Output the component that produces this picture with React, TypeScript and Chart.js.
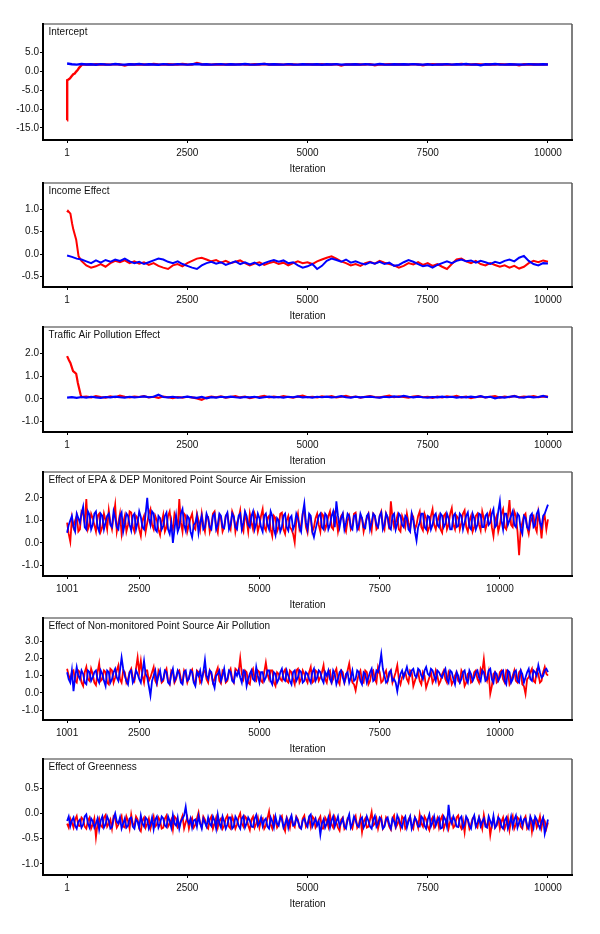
import React, { useEffect, useRef } from "react";
import { Chart, registerables } from "chart.js";

Chart.register(...registerables);

const FONT_FAMILY = "'Liberation Sans', Arial, Helvetica, sans-serif";
const RED = "#ff0000";
const BLUE = "#0000ff";
const X_TITLE = "Iteration";

// ---------- x tick labels ----------
const X_TICKS_FULL = [1, 2500, 5000, 7500, 10000];
const X_TICKS_SHIFTED = [1001, 2500, 5000, 7500, 10000];

// ---------- Panel 1: Intercept ----------
const INTERCEPT_TITLE = "Intercept";
const INTERCEPT_Y_TICKS = [5, 0, -5, -10, -15];
const INTERCEPT_BLUE = [2.05, 1.85, 1.75, 1.9, 1.78, 1.85, 1.72, 1.88, 1.8, 1.76, 1.9, 1.8, 1.74, 1.86, 1.79, 1.92, 1.76, 1.84, 1.8, 1.73, 1.87, 1.8, 1.76, 1.88, 1.82, 1.75, 1.86, 1.9, 1.78, 1.84, 1.76, 1.82, 1.88, 1.74, 1.85, 1.8, 1.77, 1.9, 1.8, 1.75, 1.86, 1.95, 1.78, 1.84, 1.79, 1.74, 1.88, 1.8, 1.76, 1.85, 1.8, 1.77, 1.86, 1.72, 1.84, 1.8, 1.88, 1.76, 1.82, 1.79, 1.85, 1.74, 1.87, 1.8, 1.76, 1.9, 1.8, 1.75, 1.85, 1.79, 1.84, 1.77, 1.88, 1.8, 1.74, 1.86, 1.68, 1.82, 1.8, 1.87, 1.76, 1.84, 1.8, 1.9, 1.75, 1.82, 1.6, 1.85, 1.78, 1.92, 1.8, 1.76, 1.86, 1.79, 1.82, 1.75, 1.88, 1.8, 1.77, 1.84, 1.8];
const INTERCEPT_RED_LEAD_ITER = [1, 3, 30, 60, 90, 130, 160, 190, 220, 250, 280, 310];
const INTERCEPT_RED_LEAD = [-13.0, -2.4, -2.2, -1.9, -1.4, -0.8, -0.6, -0.1, 0.3, 0.9, 1.3, 1.75];
const INTERCEPT_RED = [1.8, 1.74, 1.86, 1.78, 1.82, 1.75, 1.88, 1.8, 1.5, 1.84, 1.78, 1.86, 1.8, 1.76, 1.9, 1.8, 1.75, 1.85, 1.8, 1.78, 1.92, 1.8, 1.76, 2.2, 1.84, 1.8, 1.75, 1.86, 1.8, 1.78, 1.84, 1.76, 1.88, 1.8, 1.74, 1.85, 1.8, 1.9, 1.78, 1.84, 1.8, 1.76, 1.86, 1.8, 1.75, 1.82, 1.88, 1.78, 1.8, 1.84, 1.76, 1.8, 1.86, 1.5, 1.82, 1.78, 1.85, 1.8, 1.76, 1.88, 1.6, 1.82, 1.8, 1.86, 1.78, 1.84, 1.8, 1.75, 1.88, 1.8, 1.6, 1.82, 1.86, 1.78, 1.8, 1.84, 1.76, 1.82, 1.95, 1.8, 1.78, 1.86, 1.8, 1.75, 1.84, 1.8, 1.88, 1.78, 1.82, 1.8, 1.55, 1.84, 1.78, 1.86, 1.8, 1.8, 1.82];

// ---------- Panel 2: Income Effect ----------
const INCOME_TITLE = "Income Effect";
const INCOME_Y_TICKS = [1.0, 0.5, 0.0, -0.5];
const INCOME_BLUE = [-0.03, -0.06, -0.1, -0.12, -0.16, -0.2, -0.14, -0.19, -0.13, -0.17, -0.12, -0.15, -0.1, -0.16, -0.2, -0.17, -0.22, -0.18, -0.14, -0.1, -0.12, -0.17, -0.2, -0.16, -0.22, -0.26, -0.3, -0.33, -0.25, -0.2, -0.17, -0.21, -0.18, -0.24, -0.2, -0.16, -0.22, -0.18, -0.23, -0.19, -0.25, -0.2, -0.16, -0.13, -0.17, -0.14, -0.2, -0.18, -0.25, -0.3, -0.27, -0.22, -0.33, -0.26, -0.15, -0.1, -0.13, -0.17, -0.12, -0.19, -0.16, -0.2, -0.23, -0.18, -0.21, -0.17, -0.22, -0.19, -0.26, -0.24, -0.18, -0.13, -0.17, -0.22, -0.27, -0.25, -0.3, -0.24, -0.2, -0.16, -0.2, -0.15, -0.12, -0.16, -0.14, -0.19, -0.15, -0.18, -0.22, -0.17, -0.2, -0.15, -0.12, -0.16, -0.08, -0.04, -0.15, -0.22, -0.25, -0.2, -0.21];
const INCOME_RED_LEAD_ITER = [1, 20, 70, 105, 130, 190, 240, 270];
const INCOME_RED_LEAD = [0.93, 0.96, 0.9, 0.68, 0.55, 0.32, -0.05, -0.1];
const INCOME_RED = [-0.15, -0.25, -0.3, -0.27, -0.22, -0.28, -0.2, -0.15, -0.18, -0.14, -0.2, -0.16, -0.21, -0.18, -0.24, -0.2, -0.26, -0.3, -0.33, -0.25, -0.22, -0.27, -0.2, -0.15, -0.1, -0.08, -0.12, -0.16, -0.13, -0.19, -0.15, -0.2, -0.17, -0.14, -0.2, -0.25, -0.21, -0.18, -0.24, -0.2, -0.17, -0.22, -0.19, -0.25, -0.2, -0.16, -0.2, -0.18, -0.22, -0.16, -0.12, -0.08, -0.05, -0.1, -0.16, -0.2, -0.25, -0.22, -0.26, -0.2, -0.17, -0.21, -0.15, -0.19, -0.22, -0.25, -0.3, -0.26, -0.2, -0.23, -0.18, -0.24, -0.2, -0.26, -0.22, -0.28, -0.33, -0.22, -0.12, -0.1, -0.16, -0.2, -0.15, -0.22, -0.25, -0.2, -0.24, -0.28, -0.25, -0.3, -0.26, -0.32, -0.28, -0.2, -0.15, -0.18, -0.14, -0.17];

// ---------- Panel 3: Traffic Air Pollution Effect ----------
const TRAFFIC_TITLE = "Traffic Air Pollution Effect";
const TRAFFIC_Y_TICKS = [2.0, 1.0, 0.0, -1.0];
const TRAFFIC_BLUE = [0.05, 0.07, 0.04, 0.08, 0.05, 0.09, 0.06, 0.04, 0.08, 0.06, 0.1, 0.07, 0.05, 0.09, 0.06, 0.08, 0.11, 0.07, 0.09, 0.18, 0.08, 0.06, 0.09, 0.05, 0.07, 0.1, 0.06, 0.04, 0.08, 0.02, 0.07, 0.05, 0.09, 0.06, 0.1, 0.07, 0.05, 0.08, 0.06, 0.09, 0.04, 0.07, 0.1, 0.06, 0.08, 0.05, 0.09, 0.07, 0.11, 0.06, 0.08, 0.05, 0.09, 0.07, 0.1, 0.06, 0.08, 0.12, 0.07, 0.05, 0.09, 0.06, 0.08, 0.1, 0.07, 0.05, 0.09, 0.07, 0.11, 0.08, 0.13, 0.09, 0.06, 0.1, 0.07, 0.05, 0.08, 0.06, 0.1, 0.07, 0.09, 0.05, 0.08, 0.06, 0.1, 0.07, 0.12, 0.06, 0.09, 0.02, 0.07, 0.05, 0.09, 0.12, 0.07, 0.05, 0.1, 0.06, 0.08, 0.13, 0.07];
const TRAFFIC_RED_LEAD_ITER = [1, 40, 70, 125, 170, 190, 225, 280, 300];
const TRAFFIC_RED_LEAD = [1.88, 1.7, 1.58, 1.22, 1.14, 1.1, 0.7, 0.2, 0.08];
const TRAFFIC_RED = [0.1, 0.06, 0.12, 0.08, 0.05, 0.11, 0.07, 0.14, 0.09, 0.06, 0.1, 0.08, 0.12, 0.06, 0.09, 0.04, 0.1, 0.07, 0.03, 0.08, 0.05, 0.09, 0.06, 0.02, -0.04, 0.06, 0.1, 0.07, 0.11, 0.05, 0.08, 0.12, 0.06, 0.1, 0.03, 0.07, 0.09, 0.13, 0.06, 0.1, 0.07, 0.12, 0.08, 0.05, 0.1, 0.14, 0.07, 0.09, 0.06, 0.11, 0.08, 0.12, 0.06, 0.09, 0.13, 0.07, 0.1, 0.05, 0.09, 0.12, 0.08, 0.06, 0.1, 0.14, 0.07, 0.11, 0.08, 0.05, 0.1, 0.12, 0.07, 0.09, 0.04, 0.1, 0.06, 0.11, 0.08, 0.13, 0.06, 0.1, 0.03, 0.08, 0.11, 0.06, 0.09, 0.12, 0.05, 0.1, 0.07, 0.13, 0.06, 0.1, 0.08, 0.12, 0.07, 0.11, 0.1];

// ---------- Panel 4: EPA & DEP monitored point source ----------
// even draws (A) and the draws between them (B)
const EPA_TITLE = "Effect of EPA & DEP Monitored Point Source Air Emission";
const EPA_Y_TICKS = [2.0, 1.0, 0.0, -1.0];
const EPA_RED_A = [0.9, 0.05, 0.7, 1.2, 0.6, 1.3, 1.95, 0.8, 1.1, 0.5, 1.3, 0.7, 1.0, 1.45, 0.6, 1.7, 0.9, 0.4, 1.2, 0.8, 1.35, 0.5, 1.1, 0.3, 1.2, 0.9, 1.5, 0.6, 1.0, 0.35, 1.25, 0.7, 1.4, 0.6, 1.1, 1.95, 0.5, 1.2, 0.8, 1.3, 0.6, 1.0, 1.3, 0.5, 1.15, 0.8, 1.4, 0.45, 1.1, 0.7, 1.3, 0.6, 1.2, 0.9, 1.45, 0.5, 1.0, 1.3, 0.6, 1.1, 0.8, 1.5, 0.55, 1.2, 0.3, 1.1, 0.7, 1.35, 0.4, 1.2, 0.6, 0.02, 1.3, 0.8, 1.5, 0.45, 1.1, 0.7, 1.3, 0.5, 1.2, 0.8, 1.4, 0.6, 1.1, 0.9, 1.3, 0.5, 1.2, 0.75, 1.35, 0.6, 1.1, 0.85, 1.3, 0.55, 1.2, 0.7, 1.4, 0.6, 1.1, 1.85, 0.7, 1.2, 0.5, 1.0, 1.3, 0.6, 1.15, 0.8, 1.4, 0.55, 1.1, 0.7, 1.5, 0.6, 1.2, 0.45, 1.3, 0.8, 1.55, 0.6, 1.1, 0.9, 1.45, 0.5, 1.2, 0.7, 1.3, 0.55, 1.1, 0.85, 1.4, 0.3, 1.2, 0.8, 1.5, 0.6, 1.9, 0.7, 1.2, -0.55, 0.9, 1.3, 0.4, 1.1, 0.7, 1.35, 0.2, 1.2, 1.05];
const EPA_RED_B = [0.4, 1.1, 1.0, 0.5, 1.4, 0.9, 0.6, 1.3, 0.8, 1.2, 0.5, 1.3, 0.6, 0.9, 1.2, 0.5, 1.3, 0.9, 0.5, 1.4, 0.7, 1.2, 0.6, 1.0, 0.5, 1.3, 0.8, 1.2, 0.6, 0.9, 0.5, 1.2, 0.8, 1.3, 0.6, 0.9, 1.3, 0.5, 1.1, 0.7, 1.3, 0.6, 0.8, 1.2, 0.5, 1.3, 0.7, 1.2, 0.5, 1.2, 0.8, 1.4, 0.5, 1.1, 0.7, 1.3, 0.5, 0.9, 1.3, 0.5, 1.2, 0.7, 1.1, 0.6, 1.2, 0.5, 1.3, 0.6, 1.0, 0.7, 0.4, 1.0, 0.6, 1.3, 0.7, 1.2, 0.5, 1.1, 0.8, 1.3, 0.6, 1.2, 0.7, 1.3, 0.5, 1.2, 0.7, 1.0, 0.6, 1.3, 0.7, 1.2, 0.5, 1.1, 0.9, 1.3, 0.6, 1.2, 0.8, 1.3, 0.6, 1.1, 0.9, 0.6, 1.2, 0.7, 0.9, 1.3, 0.6, 1.2, 0.7, 1.3, 0.5, 1.2, 0.8, 1.0, 0.6, 1.2, 0.6, 1.3, 0.8, 1.2, 0.6, 1.3, 0.7, 1.0, 0.5, 1.2, 0.8, 1.4, 0.6, 1.2, 0.7, 1.0, 0.5, 1.3, 0.7, 1.2, 0.8, 1.4, 0.5, 0.6, 1.2, 0.7, 0.9, 1.2, 0.5, 0.9, 1.0, 0.6];
const EPA_BLUE_A = [0.45, 1.0, 0.7, 1.3, 0.9, 1.6, 0.6, 1.25, 0.8, 1.4, 0.5, 1.2, 0.9, 1.3, 0.7, 1.1, 0.6, 1.35, 0.85, 1.2, 0.55, 1.3, 0.9, 1.15, 0.6, 2.0, 0.8, 1.3, 0.5, 1.1, 0.75, 1.35, 0.4, 0.0, 1.2, 0.7, 1.5, 0.55, 1.1, 0.25, 0.9, 0.45, 1.2, 0.7, 1.1, 0.6, 1.3, 0.8, 1.2, 0.65, 1.35, 0.8, 1.15, 0.6, 1.3, 0.9, 1.2, 0.7, 1.4, 0.85, 1.1, 0.5, 1.3, 0.6, 1.2, 0.35, 1.0, 0.7, 1.3, 0.55, 1.2, 0.8, 1.1, 0.5, 1.75, 0.6, 1.2, 0.25, 0.9, 1.3, 0.6, 1.2, 0.8, 1.4, 1.85, 0.7, 1.3, 0.9, 1.2, 0.6, 1.25, 0.8, 1.1, 0.65, 1.3, 0.9, 1.2, 0.7, 1.35, 0.8, 1.15, 0.6, 1.3, 0.85, 1.2, 0.7, 1.1, 0.5, 1.0, 0.1, 0.9, 1.3, 0.6, 1.15, 0.8, 1.3, 0.7, 1.2, 0.85, 1.1, 0.6, 1.3, 0.75, 1.2, 0.9, 1.35, 0.6, 1.1, 0.8, 1.25, 0.7, 1.3, 0.9, 1.5, 0.8, 1.85, 0.6, 1.3, 1.0, 1.4, 0.7, 1.2, 0.4, 1.1, 0.6, 1.3, 0.8, 1.45, 0.7, 1.3, 1.7];
const EPA_BLUE_B = [0.8, 1.2, 0.5, 1.1, 1.3, 0.7, 1.4, 0.6, 1.3, 0.7, 1.3, 0.6, 1.2, 0.8, 1.4, 0.7, 1.2, 0.5, 1.3, 0.8, 1.2, 0.6, 1.4, 0.7, 1.3, 1.1, 1.4, 0.6, 1.2, 0.6, 1.2, 0.6, 0.9, 0.6, 0.5, 1.3, 0.8, 1.2, 0.5, 0.8, 1.2, 0.9, 0.6, 1.3, 0.7, 1.2, 0.6, 1.3, 0.7, 1.2, 0.6, 1.3, 0.7, 1.2, 0.6, 1.4, 0.8, 1.2, 0.6, 1.3, 0.7, 1.2, 0.8, 1.4, 0.6, 1.1, 0.5, 1.2, 0.7, 1.1, 0.6, 1.3, 0.7, 1.3, 0.9, 1.3, 0.5, 0.6, 1.2, 0.7, 1.3, 0.6, 1.2, 0.7, 1.2, 1.1, 0.6, 1.3, 0.7, 1.2, 0.6, 1.3, 0.7, 1.2, 0.6, 1.3, 0.8, 1.2, 0.6, 1.3, 0.7, 1.2, 0.6, 1.3, 0.8, 1.2, 0.6, 1.3, 0.5, 0.7, 1.3, 0.7, 1.2, 0.6, 1.2, 0.8, 1.3, 0.7, 1.3, 0.6, 1.2, 0.7, 1.3, 0.6, 1.2, 0.7, 1.3, 0.6, 1.3, 0.7, 1.2, 0.8, 1.3, 0.7, 1.4, 1.0, 1.3, 0.8, 1.2, 0.8, 1.3, 0.6, 1.2, 0.7, 1.2, 0.7, 1.3, 0.9, 1.2, 1.5];

// ---------- Panel 5: Non-monitored point source ----------
const NONMON_TITLE = "Effect of Non-monitored Point Source Air Pollution";
const NONMON_Y_TICKS = [3.0, 2.0, 1.0, 0.0, -1.0];
const NONMON_RED_A = [1.4, 0.8, 1.3, 0.6, 1.2, 0.4, 1.5, 0.7, 1.1, 0.45, 1.7, 0.8, 1.2, 0.5, 1.3, 0.9, 1.6, 0.6, 1.2, 0.8, 1.4, 0.7, 2.05, 1.85, 0.6, 1.3, 0.9, 1.5, 0.5, 1.1, 0.7, 1.4, 0.5, 1.2, 0.8, 1.3, 0.6, 1.1, 0.9, 1.35, 0.5, 1.2, 0.75, 1.3, 0.6, 1.1, 0.8, 1.45, 0.55, 1.2, 0.7, 1.4, 0.6, 1.3, 2.0, 0.8, 1.2, 0.5, 1.4, 0.7, 1.2, 0.6, 1.75, 0.8, 1.3, 0.4, 1.1, 0.7, 1.35, 0.6, 1.2, 0.5, 1.4, 0.8, 1.1, 0.6, 1.5, 0.7, 1.2, 0.9, 1.6, 0.6, 1.3, 0.8, 1.4, 0.5, 1.2, 0.9, 1.7, 0.6, 0.15, 1.1, 0.7, 1.3, 0.5, 1.2, 0.8, 1.5, 0.6, 1.1, 0.7, 1.3, 0.9, 1.6, 0.5, 1.1, 0.8, 1.3, 0.4, 1.0, 0.7, 1.2, 0.3, 0.9, 0.6, 1.3, 0.5, 1.1, 0.8, 1.2, 0.5, 1.0, 0.7, 1.3, 0.4, 1.1, 0.6, 1.2, 0.8, 1.4, 1.95, 0.7, -0.05, 1.1, 0.6, 1.2, 0.8, 1.3, 0.5, 1.0, 0.7, 1.2, 0.5, -0.05, 0.9, 1.4, 0.6, 1.1, 0.7, 1.5, 1.0];
const NONMON_RED_B = [1.0, 1.2, 0.7, 1.3, 0.6, 1.2, 0.8, 1.4, 0.6, 1.2, 0.7, 1.3, 0.6, 1.4, 0.6, 1.3, 0.8, 1.3, 0.6, 1.2, 0.9, 1.4, 1.2, 1.0, 1.3, 0.7, 1.2, 0.7, 1.3, 0.6, 1.2, 0.7, 1.3, 0.6, 1.2, 0.8, 1.3, 0.6, 1.2, 0.7, 1.3, 0.6, 1.2, 0.8, 1.3, 0.6, 1.2, 0.7, 1.3, 0.6, 1.2, 0.8, 1.4, 1.2, 1.1, 1.3, 0.6, 1.2, 0.8, 1.3, 0.7, 1.2, 1.1, 1.3, 0.6, 1.2, 0.8, 1.2, 0.7, 1.3, 0.8, 1.3, 0.6, 1.3, 0.8, 1.2, 0.6, 1.3, 0.7, 1.2, 0.8, 1.2, 0.6, 1.2, 0.7, 1.3, 0.6, 1.3, 1.0, 0.5, 0.7, 1.3, 0.6, 1.2, 0.7, 1.3, 0.6, 1.2, 0.7, 1.3, 1.1, 0.6, 1.2, 0.8, 0.9, 1.2, 0.6, 1.2, 0.7, 1.2, 0.5, 1.0, 0.6, 1.2, 0.8, 1.0, 0.7, 1.3, 0.6, 1.0, 0.7, 1.2, 0.6, 1.1, 0.6, 1.2, 0.7, 1.3, 0.6, 1.2, 1.0, 1.2, 0.4, 1.2, 0.7, 1.3, 0.6, 1.2, 0.7, 1.3, 0.6, 1.3, 0.4, 0.8, 1.2, 0.7, 1.3, 0.6, 1.2, 1.1];
const NONMON_BLUE_A = [1.2, 0.6, 0.1, 1.5, 0.8, 1.1, 0.5, 1.2, 0.9, 1.3, 0.6, 1.1, 0.4, 1.2, 0.8, 1.4, 0.7, 2.05, 1.0, 0.5, 1.3, 0.8, 1.1, 0.6, 1.85, 0.9, -0.15, 1.0, 0.6, 1.3, 0.8, 1.2, 0.5, 1.4, 0.9, 1.1, 0.5, 1.3, 0.8, 1.2, 0.4, 1.0, 0.7, 1.9, 0.8, 1.2, 0.3, 1.1, 0.7, 1.4, 0.8, 1.2, 0.6, 1.0, 0.9, 1.3, 0.4, 1.1, 0.8, 1.5, 0.6, 1.2, 0.9, 1.3, 0.5, 1.1, 0.8, 1.4, 0.7, 1.0, 0.5, 1.3, 0.9, 1.2, 0.7, 1.1, 0.6, 1.4, 0.9, 1.2, 0.6, 1.0, 0.8, 1.3, 0.5, 1.2, 0.9, 1.1, 0.6, 1.3, 0.8, 1.2, 0.5, 1.1, 0.9, 1.4, 0.8, 1.2, 2.25, 1.0, 0.7, 1.3, 0.8, 0.1, 1.1, 0.9, 1.5, 1.0, 1.4, 0.9, 1.3, 0.8, 1.5, 1.0, 1.3, 0.7, 1.2, 0.9, 1.4, 0.6, 1.2, 0.5, 1.0, 0.8, 1.3, 0.6, 1.1, 0.9, 1.3, 0.7, 1.2, 0.8, 1.4, 0.6, 1.1, 0.9, 1.3, 0.5, 1.2, 0.8, 1.3, 0.6, 1.1, 0.9, 1.4, 0.7, 1.2, 1.6, 0.9, 1.3, 1.2];
const NONMON_BLUE_B = [0.8, 1.3, 0.9, 1.0, 1.3, 0.6, 1.3, 0.7, 1.2, 0.8, 1.3, 0.7, 1.3, 0.6, 1.2, 0.9, 1.3, 1.4, 0.7, 1.2, 0.6, 1.3, 0.8, 1.2, 1.1, 0.4, 0.7, 1.3, 1.0, 0.7, 1.3, 0.6, 1.1, 0.7, 1.3, 0.6, 1.2, 0.7, 1.3, 0.6, 1.2, 1.3, 1.2, 1.0, 1.3, 0.6, 1.0, 1.3, 1.0, 0.7, 1.3, 0.7, 1.2, 1.3, 0.6, 1.2, 0.8, 1.3, 0.7, 1.0, 1.2, 0.7, 1.3, 0.7, 1.2, 0.6, 1.2, 0.8, 1.3, 0.7, 1.2, 0.7, 1.3, 0.6, 1.2, 0.8, 1.2, 0.7, 1.3, 0.8, 1.2, 1.3, 0.6, 1.1, 0.8, 1.3, 0.6, 1.2, 0.9, 0.7, 1.3, 0.7, 1.2, 0.6, 1.2, 0.7, 1.3, 1.6, 1.4, 0.6, 1.2, 0.7, 0.6, 0.7, 1.3, 1.2, 1.1, 1.3, 1.0, 1.4, 1.0, 1.3, 1.1, 1.4, 1.0, 1.3, 1.0, 1.2, 0.8, 1.3, 0.8, 1.2, 0.6, 1.2, 0.8, 1.3, 0.7, 1.2, 0.9, 1.3, 0.7, 1.3, 0.8, 1.2, 0.7, 1.2, 0.7, 1.3, 0.6, 1.2, 0.7, 1.3, 0.6, 1.2, 0.8, 1.3, 1.0, 1.2, 1.0, 1.4];

// ---------- Panel 6: Greenness ----------
const GREEN_TITLE = "Effect of Greenness";
const GREEN_Y_TICKS = [0.5, 0.0, -0.5, -1.0];
const GREEN_RED_A = [-0.2, -0.1, -0.28, -0.05, -0.25, -0.12, -0.3, -0.08, -0.22, -0.47, -0.1, -0.27, -0.03, -0.2, -0.3, -0.1, -0.22, -0.05, -0.28, -0.15, -0.02, -0.25, -0.12, -0.35, -0.08, -0.2, -0.3, -0.06, -0.22, -0.14, -0.28, -0.04, -0.2, -0.32, -0.1, -0.25, -0.05, -0.18, -0.3, -0.09, -0.22, 0.02, -0.27, -0.12, -0.3, -0.06, -0.2, -0.28, -0.1, -0.24, -0.04, -0.3, -0.15, -0.22, 0.0, -0.26, -0.1, -0.33, -0.06, -0.2, -0.28, -0.1, -0.24, 0.04, -0.3, -0.12, -0.22, -0.05, -0.35, -0.15, -0.08, -0.27, -0.12, -0.3, -0.04, -0.2, -0.26, -0.1, -0.22, -0.06, -0.3, -0.14, -0.02, -0.28, -0.18, -0.34, -0.08, -0.24, -0.12, -0.3, -0.05, -0.22, -0.37, -0.1, -0.26, 0.03, -0.2, -0.3, -0.08, -0.24, -0.14, -0.32, -0.04, -0.22, -0.28, -0.1, -0.25, -0.06, -0.3, -0.16, -0.02, -0.26, -0.12, -0.33, -0.08, -0.22, -0.28, -0.05, -0.2, -0.3, -0.1, -0.24, -0.04, -0.3, -0.37, -0.12, -0.22, -0.06, -0.28, -0.16, -0.03, -0.26, -0.43, -0.1, -0.24, -0.3, -0.08, -0.2, -0.33, -0.05, -0.22, -0.12, -0.3, -0.06, -0.25, -0.36, -0.1, -0.2, -0.28, -0.15, -0.18];
const GREEN_RED_B = [-0.28, -0.18, -0.12, -0.24, -0.08, -0.26, -0.14, -0.3, -0.1, -0.2, -0.24, -0.08, -0.26, -0.12, -0.06, -0.28, -0.12, -0.26, -0.06, -0.3, -0.2, -0.06, -0.3, -0.14, -0.28, -0.1, -0.18, -0.26, -0.08, -0.3, -0.1, -0.26, -0.12, -0.06, -0.28, -0.14, -0.3, -0.08, -0.16, -0.28, -0.1, -0.2, -0.06, -0.26, -0.12, -0.3, -0.08, -0.14, -0.3, -0.1, -0.26, -0.06, -0.3, -0.08, -0.2, -0.06, -0.24, -0.12, -0.28, -0.08, -0.14, -0.3, -0.1, -0.22, -0.06, -0.28, -0.1, -0.26, -0.08, -0.28, -0.22, -0.06, -0.28, -0.1, -0.26, -0.1, -0.06, -0.28, -0.12, -0.3, -0.08, -0.26, -0.22, -0.08, -0.28, -0.12, -0.3, -0.1, -0.24, -0.12, -0.28, -0.08, -0.16, -0.28, -0.12, -0.24, -0.1, -0.16, -0.3, -0.08, -0.26, -0.1, -0.28, -0.12, -0.06, -0.3, -0.12, -0.24, -0.08, -0.28, -0.2, -0.06, -0.26, -0.14, -0.28, -0.1, -0.12, -0.3, -0.1, -0.16, -0.28, -0.08, -0.24, -0.14, -0.08, -0.3, -0.1, -0.24, -0.08, -0.3, -0.2, -0.12, -0.22, -0.28, -0.08, -0.16, -0.3, -0.08, -0.14, -0.3, -0.08, -0.26, -0.12, -0.3, -0.1, -0.14, -0.28, -0.06, -0.1, -0.3];
const GREEN_BLUE_A = [-0.15, -0.25, -0.08, -0.3, -0.12, -0.22, -0.02, -0.28, -0.15, -0.2, -0.32, -0.06, -0.22, -0.14, -0.27, 0.0, -0.2, -0.3, -0.1, -0.24, -0.08, -0.3, -0.16, -0.04, -0.26, -0.12, -0.22, -0.31, -0.06, -0.2, -0.1, -0.27, -0.15, -0.03, -0.24, -0.3, -0.1, 0.13, -0.2, -0.28, -0.12, -0.05, -0.3, -0.18, -0.08, -0.25, -0.14, -0.02, -0.28, -0.16, -0.22, -0.08, -0.26, -0.12, -0.3, -0.05, -0.2, -0.14, -0.27, -0.03, -0.18, -0.25, -0.1, -0.3, -0.16, -0.06, -0.24, -0.12, -0.2, -0.28, -0.04, -0.22, -0.15, -0.3, -0.1, -0.26, -0.02, -0.18, -0.24, -0.42, -0.12, -0.2, -0.28, -0.06, -0.16, -0.25, -0.1, -0.3, -0.02, -0.2, -0.14, -0.27, -0.08, -0.22, -0.15, -0.3, -0.05, -0.2, -0.12, -0.26, -0.08, -0.3, -0.16, -0.04, -0.22, -0.12, -0.28, -0.06, -0.2, -0.14, -0.26, -0.1, -0.3, -0.02, -0.18, -0.24, -0.08, -0.28, -0.12, 0.17, -0.2, -0.14, -0.27, -0.06, -0.22, -0.12, -0.3, -0.04, -0.18, -0.25, -0.1, -0.28, -0.15, -0.05, -0.22, -0.12, -0.3, -0.08, -0.2, -0.26, -0.04, -0.18, -0.24, -0.1, -0.3, -0.14, -0.06, -0.22, -0.16, -0.4, -0.12];
const GREEN_BLUE_B = [-0.06, -0.14, -0.24, -0.16, -0.28, -0.06, -0.2, -0.1, -0.28, -0.1, -0.14, -0.28, -0.06, -0.3, -0.1, -0.16, -0.08, -0.2, -0.28, -0.1, -0.26, -0.12, -0.28, -0.2, -0.08, -0.3, -0.08, -0.12, -0.28, -0.06, -0.24, -0.06, -0.28, -0.2, -0.08, -0.16, -0.04, -0.12, -0.1, -0.14, -0.26, -0.2, -0.1, -0.26, -0.2, -0.06, -0.3, -0.2, -0.06, -0.3, -0.08, -0.3, -0.06, -0.24, -0.1, -0.28, -0.08, -0.26, -0.1, -0.24, -0.08, -0.14, -0.26, -0.08, -0.28, -0.2, -0.06, -0.28, -0.1, -0.12, -0.24, -0.08, -0.26, -0.14, -0.2, -0.06, -0.26, -0.1, -0.16, -0.2, -0.28, -0.08, -0.14, -0.26, -0.06, -0.18, -0.26, -0.12, -0.28, -0.06, -0.24, -0.12, -0.28, -0.06, -0.26, -0.12, -0.26, -0.08, -0.3, -0.12, -0.22, -0.1, -0.26, -0.12, -0.28, -0.06, -0.16, -0.3, -0.08, -0.26, -0.06, -0.24, -0.12, -0.26, -0.06, -0.14, -0.3, -0.06, -0.26, -0.12, -0.06, -0.26, -0.1, -0.28, -0.06, -0.24, -0.12, -0.26, -0.08, -0.16, -0.26, -0.06, -0.24, -0.28, -0.08, -0.26, -0.14, -0.3, -0.06, -0.12, -0.28, -0.08, -0.12, -0.24, -0.06, -0.28, -0.12, -0.3, -0.08, -0.26];

// ---------- helpers ----------
function interleave(a: number[], b: number[]) {
  const out: number[] = [];
  for (let i = 0; i < a.length; i++) {
    out.push(a[i]);
    if (i < b.length) out.push(b[i]);
  }
  return out;
}

type Series = {
  start: number;
  end: number;
  values: number[];
  leadIter?: number[];
  leadValues?: number[];
};

function toPoints(s: Series) {
  const pts: { x: number; y: number }[] = [];
  if (s.leadIter && s.leadValues) {
    s.leadIter.forEach((it, i) => pts.push({ x: it, y: s.leadValues![i] }));
  }
  const n = s.values.length;
  s.values.forEach((v, k) => {
    pts.push({ x: s.start + (k * (s.end - s.start)) / (n - 1), y: v });
  });
  return pts;
}

type PanelDef = {
  title: string;
  boxTop: number;
  boxBottom: number;
  yMin: number;
  yMax: number;
  yTicks: number[];
  xMin: number;
  xMax: number;
  xTicks: number[];
  red: Series;
  blue: Series;
  lineWidth: number;
};

const BOX_LEFT = 43;
const BOX_RIGHT = 572;
const PAD_TOP = 10;
const X_AXIS_H = 40;

const PANELS: PanelDef[] = [
  {
    title: INTERCEPT_TITLE, boxTop: 24, boxBottom: 140, yMin: -18.2, yMax: 12.5, yTicks: INTERCEPT_Y_TICKS,
    xMin: -500, xMax: 10500, xTicks: X_TICKS_FULL, lineWidth: 2.4,
    red: { start: 400, end: 10000, values: INTERCEPT_RED, leadIter: INTERCEPT_RED_LEAD_ITER, leadValues: INTERCEPT_RED_LEAD },
    blue: { start: 1, end: 10000, values: INTERCEPT_BLUE },
  },
  {
    title: INCOME_TITLE, boxTop: 183, boxBottom: 287, yMin: -0.73, yMax: 1.58, yTicks: INCOME_Y_TICKS,
    xMin: -500, xMax: 10500, xTicks: X_TICKS_FULL, lineWidth: 2.0,
    red: { start: 300, end: 10000, values: INCOME_RED, leadIter: INCOME_RED_LEAD_ITER, leadValues: INCOME_RED_LEAD },
    blue: { start: 1, end: 10000, values: INCOME_BLUE },
  },
  {
    title: TRAFFIC_TITLE, boxTop: 327, boxBottom: 432, yMin: -1.46, yMax: 3.16, yTicks: TRAFFIC_Y_TICKS,
    xMin: -500, xMax: 10500, xTicks: X_TICKS_FULL, lineWidth: 2.2,
    red: { start: 400, end: 10000, values: TRAFFIC_RED, leadIter: TRAFFIC_RED_LEAD_ITER, leadValues: TRAFFIC_RED_LEAD },
    blue: { start: 1, end: 10000, values: TRAFFIC_BLUE },
  },
  {
    title: EPA_TITLE, boxTop: 472, boxBottom: 576, yMin: -1.47, yMax: 3.15, yTicks: EPA_Y_TICKS,
    xMin: 500, xMax: 11500, xTicks: X_TICKS_SHIFTED, lineWidth: 1.8,
    red: { start: 1001, end: 11000, values: interleave(EPA_RED_A, EPA_RED_B) },
    blue: { start: 1001, end: 11000, values: interleave(EPA_BLUE_A, EPA_BLUE_B) },
  },
  {
    title: NONMON_TITLE, boxTop: 618, boxBottom: 720, yMin: -1.56, yMax: 4.33, yTicks: NONMON_Y_TICKS,
    xMin: 500, xMax: 11500, xTicks: X_TICKS_SHIFTED, lineWidth: 1.8,
    red: { start: 1001, end: 11000, values: interleave(NONMON_RED_A, NONMON_RED_B) },
    blue: { start: 1001, end: 11000, values: interleave(NONMON_BLUE_A, NONMON_BLUE_B) },
  },
  {
    title: GREEN_TITLE, boxTop: 759, boxBottom: 875, yMin: -1.22, yMax: 1.08, yTicks: GREEN_Y_TICKS,
    xMin: -500, xMax: 10500, xTicks: X_TICKS_FULL, lineWidth: 1.8,
    red: { start: 1, end: 10000, values: interleave(GREEN_RED_A, GREEN_RED_B) },
    blue: { start: 1, end: 10000, values: interleave(GREEN_BLUE_A, GREEN_BLUE_B) },
  },
];

function framePlugin(title: string) {
  return {
    id: "frameAndTitle",
    afterDraw(chart: any) {
      const { ctx, chartArea } = chart;
      const { left, right, top, bottom } = chartArea;
      ctx.save();
      ctx.strokeStyle = "#9a9a9a";
      ctx.lineWidth = 2;
      ctx.beginPath();
      ctx.moveTo(left, top);
      ctx.lineTo(right, top);
      ctx.stroke();
      ctx.strokeStyle = "#555";
      ctx.lineWidth = 1.5;
      ctx.beginPath();
      ctx.moveTo(right, top);
      ctx.lineTo(right, bottom);
      ctx.stroke();
      ctx.strokeStyle = "#000";
      ctx.lineWidth = 2;
      ctx.beginPath();
      ctx.moveTo(left, top - 1);
      ctx.lineTo(left, bottom);
      ctx.lineTo(right + 1, bottom);
      ctx.stroke();
      ctx.fillStyle = "#111";
      ctx.font = `10px ${FONT_FAMILY}`;
      ctx.textBaseline = "middle";
      ctx.textAlign = "left";
      ctx.fillText(title, left + 5.5, top + 8);
      ctx.restore();
    },
  };
}

function TracePanel({ p }: { p: PanelDef }) {
  const ref = useRef<HTMLCanvasElement>(null);
  const height = p.boxBottom - p.boxTop + PAD_TOP + X_AXIS_H;

  useEffect(() => {
    const font = { family: FONT_FAMILY, size: 10 };
    const chart = new Chart(ref.current!, {
      type: "line",
      data: {
        datasets: [
          {
            data: toPoints(p.blue),
            borderColor: BLUE,
            borderWidth: p.lineWidth,
            pointRadius: 0,
            tension: 0,
            fill: false,
          },
          {
            data: toPoints(p.red),
            borderColor: RED,
            borderWidth: p.lineWidth,
            pointRadius: 0,
            tension: 0,
            fill: false,
          },
        ],
      },
      options: {
        animation: false,
        responsive: false,
        parsing: false,
        normalized: true,
        events: [],
        layout: { padding: { top: PAD_TOP, right: 600 - BOX_RIGHT, left: 0, bottom: 0 } },
        plugins: {
          legend: { display: false },
          tooltip: { enabled: false },
          title: { display: false },
        },
        scales: {
          x: {
            type: "linear",
            min: p.xMin,
            max: p.xMax,
            afterBuildTicks: (scale: any) => {
              scale.ticks = p.xTicks.map((v) => ({ value: v }));
            },
            afterFit: (scale: any) => {
              scale.height = X_AXIS_H;
            },
            ticks: {
              font,
              color: "#111",
              padding: 4,
              maxRotation: 0,
              autoSkip: false,
              callback: (v: any) => String(v),
            },
            grid: { drawOnChartArea: false, drawTicks: true, tickLength: 3, color: "#000", lineWidth: 1 },
            border: { display: false },
            title: { display: true, text: X_TITLE, font, color: "#111", padding: { top: 0, bottom: 5 } },
          },
          y: {
            type: "linear",
            min: p.yMin,
            max: p.yMax,
            afterBuildTicks: (scale: any) => {
              scale.ticks = p.yTicks.map((v) => ({ value: v }));
            },
            afterFit: (scale: any) => {
              scale.width = BOX_LEFT;
            },
            ticks: {
              font,
              color: "#111",
              padding: 1,
              autoSkip: false,
              callback: (v: any) => Number(v).toFixed(1),
            },
            grid: { drawOnChartArea: false, drawTicks: true, tickLength: 3, color: "#000", lineWidth: 1 },
            border: { display: false },
          },
        },
      } as any,
      plugins: [framePlugin(p.title)],
    });
    return () => chart.destroy();
  }, []);

  return (
    <canvas
      ref={ref}
      width={600}
      height={height}
      style={{ position: "absolute", left: 0, top: p.boxTop - PAD_TOP, width: 600, height }}
    />
  );
}

export default function App() {
  return (
    <div style={{ position: "absolute", left: 0, top: 0, width: 600, height: 934, background: "#fff" }}>
      {PANELS.map((p, i) => (
        <TracePanel key={i} p={p} />
      ))}
    </div>
  );
}
